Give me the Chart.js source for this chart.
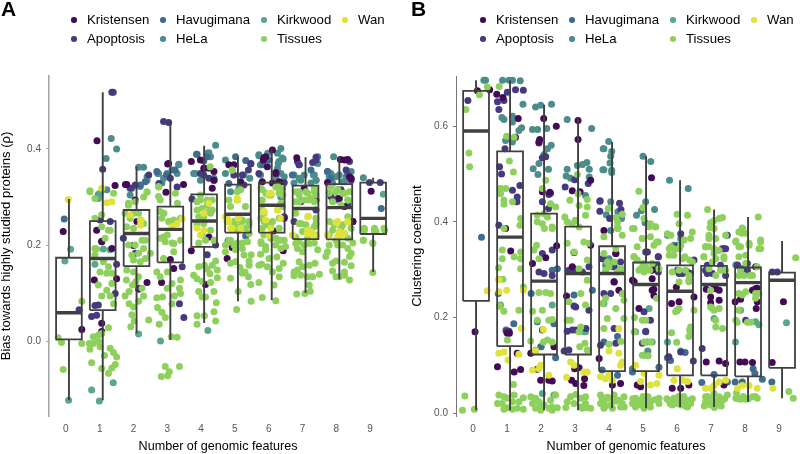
<!DOCTYPE html>
<html>
<head>
<meta charset="utf-8">
<title>Genomic features</title>
<script src="https://cdn.jsdelivr.net/npm/chart.js@4"></script>
<style>
  html, body { margin: 0; padding: 0; background: #fff; }
  body { width: 800px; height: 454px; position: relative; overflow: hidden; font-family: "Liberation Sans", sans-serif; }
  .panel { position: absolute; top: 0; height: 454px; }
  .tag { position: absolute; top: -3px; font-size: 21px; font-weight: bold; color: #000; }
  .key { position: absolute; font-size: 13.2px; color: #000; line-height: 16px; white-space: nowrap; }
  .key i { position: absolute; left: -16px; top: 5px; width: 5.5px; height: 5.5px; border-radius: 50%; }
</style>
</head>
<body>
<div class="panel" style="left:0;width:400px"><canvas id="chartA" width="400" height="454"></canvas></div>
<div class="panel" style="left:405px;width:395px"><canvas id="chartB" width="395" height="454"></canvas></div>
<div class="tag" style="left:1px">A</div>
<div class="tag" style="left:411px">B</div>
<script>
/* ── Data ─────────────────────────────── */
const seriesNames = ['Kristensen', 'Apoptosis', 'Havugimana', 'HeLa', 'Kirkwood', 'Tissues', 'Wan'];
const seriesColors = ['#430b55', '#453a80', '#3f6b8e', '#4c8d8c', '#5aa88a', '#8ed05c', '#dee23c'];
const drawOrder = [5, 6, 7, 9, 8, 4, 3];
const xCategories = [0, 1, 2, 3, 4, 5, 6, 7, 8, 9];
const yTicksA = [0, 0.2, 0.4];
const yTicksB = [0, 0.2, 0.4, 0.6];

// box summaries per category
const lowA = [-0.123, -0.123, 0.016, 0.002, 0.0375, 0.083, 0.085, 0.10, 0.129, 0.144];
const q1A = [0.0035, 0.0646, 0.156, 0.164, 0.196, 0.226, 0.226, 0.2125, 0.212, 0.223];
const medA = [0.059, 0.172, 0.224, 0.2327, 0.25, 0.264, 0.283, 0.276, 0.278, 0.2556];
const q3A = [0.1735, 0.25, 0.273, 0.28, 0.3056, 0.326, 0.33, 0.3236, 0.327, 0.33];
const highA = [0.296, 0.518, 0.363, 0.457, 0.407, 0.384, 0.40, 0.383, 0.384, 0.34];

const lowB = [0.006, 0.006, 0.006, 0.006, 0.01, 0.01, 0.013, 0.013, 0.024, 0.031];
const q1B = [0.2347, 0.14, 0.1226, 0.1226, 0.0878, 0.0878, 0.079, 0.079, 0.077, 0.0947];
const medB = [0.59, 0.368, 0.276, 0.292, 0.292, 0.269, 0.255, 0.269, 0.273, 0.278];
const q3B = [0.674, 0.5475, 0.417, 0.39, 0.349, 0.315, 0.309, 0.308, 0.3045, 0.294];
const highB = [0.696, 0.696, 0.645, 0.616, 0.567, 0.537, 0.487, 0.426, 0.41, 0.36];

// points: [jittered category, value]
const kristensenA = [[-0.08,.228],[.92,.417],[1.455,.324],[1.76,.326],[1.8,.326],[3.01,.369],[2.96,.31],[3.48,.326],[3.71,.374],[4.1,.36],
  [1.06,.208],[.91,.231],[1.5,.13],[.84,.127],[1.06,.037],[1.06,.02],[.47,.024],[2.0,.199],[2.18,.11],[2.4,.122],[3.71,.188],[3.09,.17],[3.19,.151],[2.83,.122],
  [5.86,.382],[6.11,.398],[6.83,.382],[8.24,.377],[8.34,.378],[4.82,.367],[4.97,.367],[6.21,.351],[6.36,.328],[9.03,.312],[8.49,.249],[8.12,.378],[7.74,.33],
  [4.38,.353],[4.08,.36],[4.33,.318],[5.84,.377],[7.35,.295],[8.44,.339],[6.46,.256],[5.81,.332],[5.17,.332],[4.8,.209],[4.92,.195],[4.77,.172],[4.23,.217],[6.43,.188],[6.14,.229],[4.13,.118],
  [3.04,.37],[4.38,.335],[3.98,.377],[2.05,.294],[2.1,.249],[1.36,.193],[1.06,.207],[5.96,.363],[5.91,.384],[6.21,.349],[6.31,.332],[6.11,.329],[7.05,.318],[7.4,.294],[6.95,.29],[8.09,.297],[8.39,.342],[8.24,.28],[8.49,.249]];
const apoptosisA = [[1.36,.518],[1.4,.518],[2.89,.457],[3.04,.455],[1.09,.358],[2.45,.346],[3.09,.339],[1.9,.318],[2.05,.325],[2.75,.328],[3.29,.321],[3.73,.296],[3.98,.349],[4.23,.339],[1.01,.252],[1.31,.249],
  [.76,.051],[.91,.054],[.86,.074],[.96,.075],[.39,.065],[3.36,.078],[3.49,.049],[1.46,.099],[1.5,.16],[1.7,.214],[2.05,.183],[3.44,.155],[2.15,.108],
  [5.47,.369],[5.4,.356],[4.97,.346],[4.38,.335],[4.08,.346],[4.23,.36],[5.71,.349],[6.85,.374],[6.9,.367],[7.3,.372],[7.4,.383],[8.29,.356],[8.44,.335],[7.84,.301],[6.46,.33],[8.14,.315],[8.98,.33],[9.3,.33],[7.4,.273],[6.26,.328],[5.27,.325],[4.18,.18],[4.43,.2],
  [5.22,.346],[5.47,.37],[7.4,.377],[6.9,.367],[8.39,.374],[6.75,.249],[6.46,.259],[7.89,.294],[8.04,.297],[8.34,.283]];
const havugimanaA = [[-.05,.254],[1.95,.318],[2.2,.325],[2.35,.332],[3.88,.389],[2.69,.353],[2.98,.346],[3.23,.356],[4.08,.375],[4.18,.384],[9.33,.276],[5.32,.219],
  [5.02,.384],[5.32,.376],[5.82,.367],[6.01,.377],[7.25,.356],[6.7,.346],[7.74,.353],[7.84,.339],[8.34,.349],[4.82,.328]];
const helaA = [[1.34,.422],[1.5,.4],[1.19,.38],[2.15,.362],[2.3,.362],[3.34,.368],[3.14,.356],[2.72,.349],[4.23,.392],[3.86,.389],[3.78,.349],[2.4,.335],[.96,.305],[1.21,.315],
  [4.43,.408],[4.18,.388],[6.36,.401],[6.26,.391],[5.71,.386],[5.97,.391],[6.43,.379],[7.45,.384],[7.92,.384],[7.45,.37],[5.76,.367],[6.28,.37],[6.36,.349],[4.72,.349],[5.27,.346],[7.32,.346],[7.84,.349],[8.09,.346],[8.8,.34],[5.44,.339],[6.95,.335],[7.4,.335],[8.34,.342],[4.87,.311],[5.12,.318],[6.36,.3],[8.19,.332],
  [5.71,.388],[5.91,.377],[6.3,.374],[5.76,.367],[6.4,.381],[6.26,.36],[5.76,.346],[6.21,.342],[6.46,.342],[6.75,.346],[6.9,.339],[7.05,.346],[7.35,.346],[7.25,.329],[6.75,.329],[7.4,.335],
  [7.74,.353],[7.79,.342],[7.99,.342],[8.44,.353],[7.89,.329],[8.29,.342],[8.24,.332],[7.99,.294],[3.83,.349],[4.28,.384],[4.18,.391],[4.72,.377],[4.38,.339],[3.98,.335],
  [2.74,.349],[2.89,.339],[2.99,.349],[3.34,.367],[2.84,.329],[3.29,.349],[1.9,.304],[2.2,.322],[2.4,.342]];
const kirkwoodA = [[.76,-.102],[1.4,-.087],[.99,-.125],[.08,-.123],[-.03,.167],[.14,.191],[1.11,.192],[1.31,.19],[.86,.16],[2.8,0],[4.2,.022],[9.39,.306],[2.15,.015],[1.01,.308],[.96,.297]];
const tissuesA = [[.47,.083],[-.23,.007],[-.13,-.003],[.47,-.005],[-.08,-.059],[.71,.313],[.86,.297],
  [1.31,.231],[.91,.192],[1.11,.165],[1.26,.155],[1.21,.141],[1.36,.141],[1.01,.144],[.96,.117],[1.36,.12],[1.06,.094],[1.31,.094],[1.21,.106],[1.41,.078],[1.26,.028],[.96,.012],[1.06,.016],[.81,.009],[.69,-.005],[.81,-.005],[.96,-.001],[1.01,-.012],[.71,-.017],[1.31,-.015],[1.41,-.024],[1.5,-.033],[1.14,-.03],[.76,-.045],[1.46,-.049],[1.06,-.057],[1.36,-.056],[1.26,-.067],[.86,.179],
  [2.02,.042],[1.92,.03],[1.95,.055],[1.87,.078],[2.0,.071],[2.15,.083],[2.3,.094],[1.75,.094],[1.87,.103],[1.97,.117],[2.07,.124],[1.79,.127],[2.25,.11],[2.45,.044],[2.2,.165],[2.0,.169],[1.8,.148],[2.35,.172],[2.5,.183],[2.0,.144],[2.15,.134],
  [2.94,-.053],[3.06,-.064],[3.01,-.072],[2.82,-.074],[3.36,-.053],[3.12,.009],[3.29,.008],[2.76,.035],[2.94,.049],[2.84,.06],[2.71,.07],[3.14,.078],[2.69,.09],[2.86,.092],[3.21,.094],[3.39,.099],[3.36,.11],[3.0,.11],[2.69,.144],[2.79,.134],[3.0,.144],[3.19,.186],[2.89,.172],[3.39,.127],[3.14,.12],
  [3.88,.053],[3.88,.035],[4.1,.053],[3.78,.137],[3.93,.155],[3.88,.13],[4.03,.124],[3.93,.103],[4.18,.15],[4.03,.092],[4.43,.042],[4.38,.061],[4.45,.08],[4.38,.103],[4.13,.092],[4.28,.122],[4.48,.132],[4.48,.148],[4.26,.14],[4.43,.167],[4.33,.158],[4.1,.158],[4.72,.2],
  [5.05,.066],[5.48,.083],[5.1,.103],[5.47,.118],[4.87,.131],[5.4,.134],[5.22,.141],[5.3,.144],[5.15,.153],[5.42,.158],[5.42,.167],[4.87,.162],[5.02,.165],[5.48,.18],[5.27,.179],[5.02,.19],[5.22,.193],[4.87,.21],[4.72,.186],
  [5.81,.091],[6.21,.084],[5.71,.122],[6.16,.117],[6.31,.134],[6.11,.144],[6.31,.151],[6.43,.162],[5.71,.158],[5.96,.155],[5.79,.16],[6.01,.172],[6.24,.175],[5.76,.181],[5.91,.19],[5.78,.203],[6.36,.193],[6.5,.197],[6.36,.21],[6.21,.214],
  [6.83,.098],[7.07,.099],[7.23,.104],[7.2,.117],[6.75,.136],[6.95,.137],[7.15,.134],[7.3,.134],[7.5,.139],[6.85,.148],[7.0,.155],[6.75,.144],[7.2,.158],[7.37,.162],[6.9,.165],[7.45,.19],[6.85,.193],[7.0,.186],[6.8,.203],[7.2,.203],
  [8.39,.127],[7.99,.134],[8.09,.134],[8.24,.137],[7.89,.146],[8.24,.144],[8.44,.157],[8.24,.164],[7.89,.162],[7.99,.167],[8.39,.176],[7.69,.176],[8.44,.183],[7.74,.186],[7.79,.2],[8.34,.193],[8.04,.2],
  [9.08,.143],[8.8,.21],[9.08,.203],[9.18,.228],[9.13,.235],[8.83,.235],[9.41,.235],
  [2.4,.31],[2.05,.29],[1.85,.283],[2.3,.3],[1.75,.266],[2.2,.252],[2.0,.266],[2.3,.193],[2.15,.183],[1.95,.179],
  [2.75,.321],[3.3,.287],[2.9,.266],[3.4,.255],[3.05,.249],[2.79,.294],[3.19,.203],[2.79,.214],[3.0,.221],
  [3.98,.294],[4.18,.283],[3.88,.273],[4.08,.259],[4.23,.27],[4.27,.363],[4.33,.273],[4.18,.294],[4.08,.245],
  [4.92,.356],[5.07,.294],[4.87,.28],[5.31,.28],[5.42,.249],[4.97,.249],[5.22,.252],[5.12,.238],
  [6.21,.321],[6.41,.318],[6.31,.308],[5.81,.315],[6.01,.304],[5.81,.294],[6.36,.287],[6.06,.238],[6.31,.256],[5.86,.249],
  [6.9,.311],[7.1,.311],[7.35,.311],[7.25,.297],[6.9,.29],[7.05,.294],[6.8,.266],[7.4,.245],[6.95,.245],[7.35,.238],
  [8.04,.316],[8.24,.308],[7.79,.309],[8.34,.294],[7.89,.29],[8.14,.283],[8.34,.259],[7.94,.245],[8.14,.235],
  [.71,.311],[1.06,.238],[1.26,.231],[.86,.193],[1.41,.308],[1.16,.214],[.86,.256],[1.06,.263],
  [2.4,.311],[1.85,.287],[2.15,.266],[2.3,.245],[2.0,.235],[1.8,.238],[2.35,.21],[2.05,.2],[1.85,.2],[2.25,.21],[1.9,.256],
  [2.74,.322],[2.74,.301],[3.24,.308],[2.84,.256],[3.04,.249],[2.89,.217],[3.14,.204],[3.39,.21],[3.19,.252],[2.79,.27],[3.39,.256],[2.94,.207],
  [3.88,.29],[4.03,.276],[4.33,.294],[3.93,.259],[4.28,.266],[3.88,.242],[4.03,.221],[4.28,.231],[3.93,.204],[4.38,.21],[4.13,.21],[3.98,.304],
  [5.07,.311],[5.17,.315],[5.07,.252],[5.22,.249],[5.32,.235],[5.42,.242],[5.07,.231],[5.42,.224],[5.22,.204],[5.37,.207],[5.07,.204],[4.92,.356],[4.82,.294],[4.97,.238],[4.77,.249],[4.82,.21],[4.97,.2],
  [5.77,.318],[5.92,.308],[6.07,.304],[6.32,.315],[6.42,.304],[6.27,.322],[5.81,.273],[5.86,.266],[6.41,.28],[5.77,.256],[5.96,.242],[6.11,.249],[6.31,.235],[5.81,.235],[5.86,.221],[6.06,.214],[6.31,.21],[6.46,.21],[5.77,.207],[6.21,.2],[5.91,.197],
  [6.8,.311],[6.9,.304],[7.35,.318],[7.4,.304],[7.15,.308],[6.8,.29],[7.2,.294],[7.35,.29],[6.9,.245],[7.1,.242],[7.4,.256],[7.0,.228],[7.25,.231],[7.4,.221],[6.8,.217],[7.15,.214],[6.9,.207],[7.35,.204],[7.05,.2],
  [7.84,.322],[8.19,.308],[8.39,.311],[7.79,.308],[7.99,.311],[8.34,.294],[7.79,.249],[7.94,.242],[8.19,.242],[8.44,.235],[7.89,.231],[8.24,.224],[7.79,.221],[7.99,.21],[8.34,.214],[8.49,.204],[8.19,.2],
  [8.83,.231],[9.13,.228],[9.43,.231],[8.8,.21],[9.08,.204]];
const wanA = [[.07,.295],[1.06,.318],[1.21,.288],[1.36,.29],[1.9,.262],[2.23,.252],[2.2,.241],[3.44,.255],[3.29,.245],[3.14,.238],[4.23,.287],[4.08,.266],[3.88,.235],[4.08,.231],[3.98,.221],
  [5.07,.297],[4.72,.259],[4.82,.249],[4.87,.235],[5.17,.235],[6.01,.307],[5.86,.269],[6.26,.273],[5.91,.252],[6.06,.235],[6.01,.22],
  [7.15,.259],[7.25,.224],[7.4,.217],[7.15,.231],[6.7,.221],[7.99,.247],[8.34,.248],[8.09,.221],[7.74,.221],[8.24,.224],[8.04,.217],
  [5.07,.294],[5.1,.256],[4.77,.256],[4.92,.235],[6.07,.308],[5.86,.27],[6.26,.273],[6.36,.256],[7.18,.26],[7.25,.228],[7.35,.221],[7.15,.224],[8.34,.249],[8.04,.249],[8.09,.228],[8.14,.221]];

const kristensenB = [[.49,.676],[.7,.667],[.88,.66],[.13,.674],[1.33,.616],[1.25,.577],[2.08,.616],[2.45,.6],[1.94,.567],[1.96,.572],[3.09,.572],[3.09,.612],[3.46,.487],[2.92,.465],[3.15,.463],[2.04,.463],[2.26,.462],[.96,.386],
  [1.11,.339],[.06,.17],[1.01,.167],[1.07,.167],[1.3,.125],[.72,.097],[1.21,.086],[1.4,.091],[1.75,.313],[2.14,.325],[2.46,.35],[1.7,.125],[1.99,.069],[2.23,.069],[2.33,.067],[1.89,.092],[2.38,.139],[2.75,.245],[2.97,.336],[2.92,.306],[2.99,.093],[3.12,.095],[2.9,.069],[3.02,.062],[3.26,.058],[3.28,.072],[3.46,.351],
  [4.15,.274],[4.2,.334],[3.71,.114],[4.1,.059],[4.34,.062],[5.27,.281],[5.27,.257],[4.88,.219],[4.83,.059],[4.93,.055],[5.32,.246],[5.25,.492],
  [5.98,.263],[5.84,.229],[6.06,.233],[5.86,.052],[6.11,.052],[6.35,.059],[6.86,.107],[7.24,.109],[7.43,.104],[6.99,.243],[6.99,.231],[7.24,.236],[7.14,.26],[7.38,.059],
  [7.85,.107],[8.0,.107],[8.22,.106],[7.71,.233],[7.87,.238],[8.31,.26],[8.22,.257],[8.33,.219],[8.36,.233],[9.13,.233],[8.8,.106],
  [4.15,.275],[4.29,.257],[3.85,.382],[4.2,.334],[5.27,.299],[4.69,.278],[4.74,.275],[5.32,.259],[6.5,.243],[6.86,.259],[7.09,.264],[7.24,.257],[8.26,.257],[8.36,.261]];
const apoptosisB = [[-.15,.654],[1.25,.676],[1.48,.675],[1.01,.671],[.72,.651],[.91,.654],[.76,.635],[.94,.553],[.84,.5],[.78,.515],[1.16,.466],[1.3,.452],[1.38,.476],[1.29,.442],[.76,.393],
  [1.94,.565],[2.04,.534],[2.14,.536],[2.04,.442],[2.23,.457],[2.22,.428],[2.28,.46],[3.39,.48],[2.99,.488],[2.71,.473],[3.73,.443],[3.73,.422],[3.02,.403],[3.74,.444],[4.31,.439],[4.35,.426],[4.02,.407],
  [1.06,.171],[.98,.171],[2.04,.334],[2.33,.341],[1.94,.295],[2.09,.292],[2.33,.288],[2.04,.174],[2.82,.299],[2.97,.302],[3.41,.306],[3.22,.295],[2.97,.224],[3.02,.222],[3.41,.215],[2.92,.174],[3.02,.174],[2.77,.171],[3.32,.177],[2.82,.132],[2.68,.13],
  [3.81,.323],[3.85,.25],[4.05,.25],[4.15,.177],[4.2,.146],[3.75,.142],[5.03,.212],[5.22,.194],[5.08,.17],[5.32,.302],[5.45,.327],[5.13,.337],[4.98,.146],[5.45,.295],
  [6.06,.292],[6.4,.292],[6.16,.295],[5.96,.348],[5.76,.118],[6.11,.128],[6.48,.109],[6.74,.135],[6.89,.309],[7.04,.292],[7.38,.344],[7.28,.309],[7.43,.288],[8.02,.194],[7.92,.302],[8.07,.313],[8.31,.306],[8.8,.295],[8.95,.295],
  [3.81,.323],[4.05,.31],[4.15,.306],[4.34,.316],[5.08,.337],[5.45,.327],[5.08,.302],[5.32,.31],[5.42,.31],[6.11,.375],[6.01,.299],[6.16,.292],[6.31,.295],[6.5,.32],[6.84,.299],[6.89,.292],[7.33,.344],[7.43,.344],[7.48,.372],[7.78,.31],[8.07,.299]];
const havugimanaB = [[.25,.368],[.74,.25],[1.2,.187],[.97,.174],[1.71,.25],[2.38,.187],[1.89,.191],[1.99,.139],[2.43,.116],[2.33,.299],[2.48,.302],[3.51,.257],[2.97,.247],
  [3.85,.149],[4.25,.16],[3.8,.09],[4.25,.079],[4.69,.086],[5.47,.096],[5.08,.171],[5.72,.116],[6.24,.127],[5.81,.11],[6.73,.064],[7.09,.081],[7.48,.065],[7.71,.065],[7.92,.065],[8.24,.093],[8.29,.083],[8.51,.071],[8.79,.065]];
const helaB = [[.32,.696],[.37,.696],[.87,.696],[1.06,.696],[1.16,.696],[1.39,.695],[1.47,.646],[.85,.618],[.91,.614],[1.16,.621],[1.43,.597],[1.35,.591],[1.16,.609],[.96,.57],[1.16,.567],
  [1.84,.64],[1.99,.644],[2.31,.646],[1.75,.593],[1.9,.593],[2.17,.595],[2.3,.56],[2.19,.553],[2.09,.541],[1.77,.511],[1.94,.522],[2.22,.51],[1.91,.499],[2.77,.614],[3.49,.595],[3.07,.518],[3.22,.52],[3.35,.524],[2.77,.51],[2.74,.496],[2.87,.491],[3.42,.51],[3.42,.494],[3.83,.553],[3.82,.509],[3.31,.455],
  [3.99,.568],[3.85,.553],[4.08,.547],[4.05,.537],[4.03,.523],[3.85,.509],[4.08,.508],[4.08,.503],[4.05,.442],[4.26,.421],[3.92,.415],[4.37,.407],[5.0,.537],[5.23,.526],[5.78,.487],[6.33,.47],[5.08,.442],[5.34,.426],[4.81,.414],[4.95,.423],[5.06,.398],
  [.78,.224],[5.91,.351],[6.06,.344],[5.14,.13],[4.69,.093],[4.0,.323],[4.15,.306],[3.9,.309],[4.05,.382],[4.0,.31],[4.1,.306],[5.96,.348],[6.01,.351],[5.72,.372],[6.11,.365],[7.73,.31]];
const kirkwoodB = [[9.22,.189],[7.09,.198],[8.31,.191],[8.41,.185],[7.87,.215],[5.18,.219],[6.01,.215],[5.27,.149],[5.13,.149],[6.11,.13],[7.72,.149],[5.72,.149],[3.26,.17],[3.31,.17],[2.33,.226],[.81,.226],[2.04,.041],[2.38,.038],[2.01,.139],[5.03,.121],[4.78,.17],[3.85,.229],[4.39,.25]];
const tissuesB = [[-.24,.036],[-.31,.006],[.04,.008],[-.21,.635],[.19,.666],[.42,.682],[-.12,.544],[-.1,.515],
  [.76,.038],[.91,.034],[1.01,.031],[.86,.02],[.72,.02],[1.16,.024],[1.21,.038],[1.48,.032],[.91,.008],[1.01,.011],[1.16,.008],[1.3,.01],[1.48,.008],[1.35,.024],[1.19,.06],
  [.75,.304],[.76,.28],[.88,.28],[.86,.341],[.86,.323],[1.21,.327],[1.4,.337],[1.4,.323],[.91,.213],[1.35,.215],[.78,.224],[.91,.386],[1.4,.302],[1.01,.153],[1.48,.264],
  [.77,.683],[.99,.579],[1.21,.577],[1.07,.527],[1.19,.504],[.81,.47],[.96,.47],[.91,.445],[1.16,.442],[.91,.437],[1.38,.393],[.81,.459],[1.4,.407],
  [1.7,.034],[1.84,.031],[1.75,.02],[1.94,.024],[1.99,.013],[1.84,.01],[2.09,.017],[2.28,.027],[2.33,.013],[2.48,.011],[2.24,.01],[1.99,.006],[2.33,.006],[2.43,.038],
  [1.87,.351],[1.94,.323],[1.79,.341],[2.1,.386],[2.33,.386],[1.94,.252],[2.14,.252],[2.28,.25],[2.04,.215],[1.75,.213],[2.23,.194],[2.33,.196],[1.89,.194],[1.7,.151],[2.19,.153],[2.33,.149],[2.07,.149],[1.84,.132],
  [2.14,.487],[2.04,.47],[2.43,.431],[2.28,.438],[2.09,.417],[1.89,.414],[2.19,.41],[2.04,.396],[2.33,.389],[1.89,.4],
  [2.77,.024],[2.87,.034],[3.02,.039],[2.73,.012],[2.97,.02],[3.17,.031],[3.31,.034],[3.17,.013],[3.31,.02],[3.36,.011],[3.46,.01],[3.22,.01],
  [2.77,.355],[2.97,.337],[3.26,.358],[3.41,.355],[3.36,.32],[3.12,.302],[3.36,.278],[2.82,.233],[2.77,.194],[2.87,.194],[3.17,.25],[3.31,.226],[3.17,.18],[3.14,.139],[3.29,.146],[3.12,.17],[3.36,.132],
  [3.07,.499],[3.09,.459],[2.85,.445],[3.36,.447],[3.12,.434],[3.36,.431],[3.02,.403],[2.7,.41],[3.31,.414],[2.77,.4],[2.92,.396],[3.12,.389],
  [3.75,.038],[3.85,.024],[4.0,.031],[4.15,.038],[4.34,.013],[4.44,.034],[4.29,.027],[3.85,.01],[4.05,.017],[4.39,.02],
  [3.75,.02],[3.9,.015],[3.95,.033],[4.2,.025],[4.45,.013],[4.1,.01],[3.8,.03],
  [4.39,.372],[4.25,.39],[3.81,.229],[4.2,.219],[4.44,.236],[4.25,.295],[4.0,.306],[4.15,.316],[4.39,.302],[3.95,.198],[4.44,.198],[4.0,.144],[3.85,.177],
  [3.98,.428],[4.2,.409],[4.39,.416],[4.25,.4],[4.27,.386],
  [4.25,.386],[3.85,.369],[4.2,.344],[3.85,.334],[3.95,.316],[4.34,.302],[3.9,.299],[4.35,.15],[4.4,.25],[3.9,.24],
  [4.69,.02],[4.78,.031],[4.94,.027],[5.08,.034],[5.22,.024],[4.78,.013],[4.94,.017],[5.22,.013],[5.47,.031],[5.47,.02],[5.03,.01],
  [4.85,.024],[5.1,.02],[5.15,.034],[5.35,.028],[4.7,.03],[5.0,.035],
  [4.74,.386],[4.74,.327],[4.98,.365],[4.83,.32],[5.08,.306],[5.32,.351],[5.45,.358],[5.18,.39],[4.93,.302],[5.2,.299],[5.47,.302],[4.98,.194],[5.08,.194],[4.74,.17],[5.03,.149],[5.22,.149],[4.98,.121],
  [4.88,.464],[5.0,.43],[5.22,.396],[5.03,.407],[5.37,.389],[4.69,.386],
  [4.98,.365],[4.83,.348],[4.73,.327],[5.22,.369],[5.4,.358],[4.88,.299],[5.03,.295],[5.27,.313],[5.0,.313],[5.37,.39],[4.75,.2],[5.4,.24],[5.15,.12],
  [5.76,.027],[5.91,.031],[6.01,.024],[5.86,.017],[6.16,.027],[6.31,.027],[6.4,.02],[6.31,.013],[6.11,.017],
  [5.7,.03],[5.8,.02],[6.05,.035],[6.2,.035],[5.95,.02],[6.25,.015],[6.45,.03],
  [5.82,.372],[5.92,.344],[5.77,.33],[6.11,.351],[6.23,.327],[6.45,.379],[6.37,.32],[6.06,.274],[6.35,.278],[6.25,.299],[6.06,.219],[5.96,.212],[6.4,.18],[6.4,.17],[6.35,.16],[5.84,.168],[5.99,.148],[6.5,.215],
  [6.0,.416],[6.31,.414],[6.06,.396],
  [5.72,.375],[5.82,.348],[5.77,.344],[6.06,.344],[6.21,.362],[6.4,.365],[5.91,.33],[6.16,.323],[6.45,.316],[6.06,.299],[6.35,.288],[6.35,.275],[5.86,.295],[6.37,.174],
  [6.84,.034],[6.94,.027],[7.09,.041],[6.84,.024],[6.99,.017],[7.24,.034],[7.48,.038],[7.24,.02],[7.34,.027],
  [6.9,.035],[7.0,.03],[6.8,.015],[7.15,.025],[7.3,.015],[7.1,.012],[7.4,.03],
  [7.09,.386],[6.94,.365],[6.84,.348],[7.09,.344],[7.24,.34],[7.43,.372],[6.79,.327],[7.04,.316],[7.38,.323],[7.04,.219],[7.14,.194],[7.14,.18],[7.34,.177],[6.99,.257],
  [6.9,.426],[7.34,.409],[7.09,.403],[6.99,.398],[6.97,.388],
  [7.24,.407],[7.04,.389],[6.94,.372],[7.14,.365],[6.84,.348],[6.94,.348],[7.09,.334],[6.79,.327],[7.14,.323],[7.38,.327],[6.94,.302],[7.28,.299],[7.14,.288],[7.43,.299],[6.99,.222],[7.24,.219],[7.09,.215],
  [7.73,.031],[7.87,.029],[8.02,.029],[8.22,.034],[8.36,.031],[7.8,.03],[7.95,.035],[8.1,.03],[8.3,.035],[7.75,.042],
  [7.92,.386],[7.92,.376],[7.73,.358],[7.87,.348],[8.12,.351],[8.46,.358],[8.46,.344],[7.97,.288],[8.02,.254],[8.31,.24],[8.41,.25],[7.82,.288],[8.15,.288],[7.82,.215],[7.73,.194],[7.77,.19],
  [7.92,.387],[8.39,.41],[9.29,.045],[9.42,.031],[9.49,.325],
  [7.82,.379],[8.02,.376],[7.73,.36],[7.82,.348],[8.41,.344],[8.12,.355],[8.02,.33],[7.82,.327],[8.46,.362],[8.02,.313],[8.22,.288],[7.87,.299],[8.36,.306],[7.92,.247],[8.31,.25],[7.82,.25],[8.07,.19],[8.17,.19]];
const wanB = [[.42,.256],[.76,.125],[.91,.128],[1.35,.123],[1.42,.177],[.99,.257],[.76,.254],[1.48,.257],[.76,.279],[1.03,.111],
  [1.75,.09],[1.94,.093],[1.99,.1],[1.84,.13],[2.23,.079],[2.07,.175],[2.75,.075],[2.87,.107],[2.97,.1],[3.26,.086],[3.36,.086],
  [3.9,.072],[4.1,.069],[4.0,.08],[4.29,.125],[4.39,.107],[4.29,.177],[4.0,.13],[3.75,.076],[4.34,.1],
  [4.78,.1],[4.93,.066],[5.03,.083],[5.22,.059],[5.41,.062],[5.47,.079],[6.01,.093],[5.91,.069],[6.16,.069],[6.31,.066],
  [6.84,.052],[6.99,.052],[7.09,.058],[7.43,.069],[7.24,.065],[7.78,.052],[7.92,.058],[8.12,.058],[8.36,.052],[8.82,.052]];

/* ── Panel helpers ────────────────────── */
const boxHalf = 0.38;
const boxShift = 0.09; // boxes sit a little right of their tick labels
const INK = '#404040';
const pts = arr => arr.map(([x, y]) => ({ x, y }));
const gap = { x: NaN, y: NaN };

function lineSet(data, width, order) {
    return { type: 'scatter', showLine: true, spanGaps: false, data, borderColor: INK, borderWidth: width, pointRadius: 0, order, clip: false, borderCapStyle: 'butt', borderJoinStyle: 'miter' };
}

function makeChart(id, groups, box, yTicks, yMin, yMax, yTitle, o) {
    const pointSets = groups.map((g, i) => ({
        type: 'scatter', label: seriesNames[i], data: pts(g), backgroundColor: seriesColors[i], borderWidth: 0,
        pointRadius: 3.5, order: drawOrder[i], clip: false
    }));
    const rect = [], whisk = [], mid = [];
    xCategories.forEach((c, i) => {
        const m = c + boxShift, l = m - boxHalf, r = m + boxHalf;
        rect.push({ x: l, y: box.q1[i] }, { x: r, y: box.q1[i] }, { x: r, y: box.q3[i] }, { x: l, y: box.q3[i] }, { x: l, y: box.q1[i] }, gap);
        whisk.push({ x: m, y: box.low[i] }, { x: m, y: box.q1[i] }, gap, { x: m, y: box.q3[i] }, { x: m, y: box.high[i] }, gap);
        mid.push({ x: l, y: box.med[i] }, { x: r, y: box.med[i] }, gap);
    });
    return new Chart(document.getElementById(id), {
        type: 'scatter',
        data: { datasets: [lineSet(rect, 1.8, 1), lineSet(whisk, 1.9, 1), lineSet(mid, 3.4, 0), ...pointSets] },
        options: {
            responsive: false, animation: false,
            layout: { padding: { top: 76, right: o.right, left: 0, bottom: 0 } },
            plugins: { legend: { display: false }, tooltip: { enabled: false } },
            scales: {
                x: {
                    type: 'linear', min: -0.5, max: 9.5,
                    grid: { display: false, drawTicks: false }, border: { display: false },
                    afterBuildTicks: s => { s.ticks = xCategories.map(value => ({ value })); },
                    afterFit: s => { s.height = 38; },
                    ticks: { color: '#555', font: { size: 10, family: 'Liberation Sans' }, padding: 7, maxRotation: 0, autoSkip: false, callback: v => String(v) },
                    title: { display: true, text: 'Number of genomic features', color: '#000', font: { size: 12.6, family: 'Liberation Sans', lineHeight: 1 }, padding: { top: 0, bottom: 1.5 } }
                },
                y: {
                    min: yMin, max: yMax,
                    grid: { drawOnChartArea: false, drawTicks: true, tickLength: 3, tickColor: o.axis, tickWidth: 1 },
                    border: { display: true, color: o.axis, width: o.axisWidth },
                    afterBuildTicks: s => { s.ticks = yTicks.map(value => ({ value })); },
                    afterFit: s => { s.width = o.yWidth; },
                    ticks: { color: '#555', font: { size: 10, family: 'Liberation Sans' }, padding: 5, callback: v => v.toFixed(1) },
                    title: { display: true, text: yTitle, color: '#000', font: { size: 13.1, family: 'Liberation Sans', lineHeight: 1 }, padding: { top: o.titlePad, bottom: 0 } }
                }
            }
        }
    });
}

/* ── Legends ──────────────────────────── */
function addLegend(colX) {
    seriesNames.forEach((name, i) => {
        const el = document.createElement('div');
        el.className = 'key';
        el.style.left = colX[Math.floor(i / 2)] + 'px';
        el.style.top = (12 + (i % 2) * 19) + 'px';
        el.innerHTML = `<i style="background:${seriesColors[i]}"></i>${name}`;
        document.body.appendChild(el);
    });
}

/* ── Render ───────────────────────────── */
makeChart('chartA', [kristensenA, apoptosisA, havugimanaA, helaA, kirkwoodA, tissuesA, wanA],
    { low: lowA, q1: q1A, med: medA, q3: q3A, high: highA }, yTicksA, -0.156, 0.552,
    'Bias towards highly studied proteins (\u03C1)', { right: 13, yWidth: 49, axis: '#a8a8a8', axisWidth: 1.6, titlePad: 0 });
makeChart('chartB', [kristensenB, apoptosisB, havugimanaB, helaB, kirkwoodB, tissuesB, wanB],
    { low: lowB, q1: q1B, med: medB, q3: q3B, high: highB }, yTicksB, -0.006, 0.705,
    'Clustering coefficient', { right: 3, yWidth: 51, axis: '#777', axisWidth: 1, titlePad: 5.5 });
addLegend([87, 176, 277, 358]);
addLegend([496, 585, 686, 767]);
</script>
</body>
</html>
